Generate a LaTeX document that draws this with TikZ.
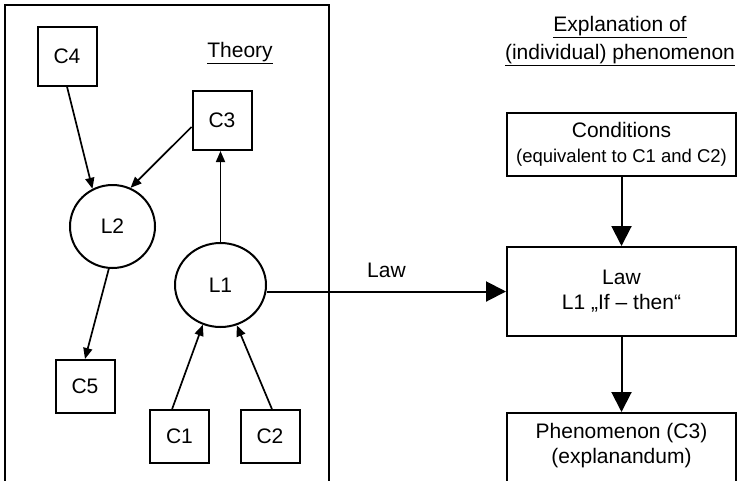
\documentclass[tikz,border=0pt]{standalone}
\usepackage{fontspec}
\setmainfont{Liberation Sans}
\usetikzlibrary{arrows.meta,shapes.geometric}
\newcommand{\subtext}{\fontsize{18.5}{22}\selectfont}
\begin{document}
\begin{tikzpicture}[x=1pt,y=-1pt,
  font=\fontsize{21}{25}\selectfont,
  cbox/.style={draw, line width=2pt, inner sep=0pt, minimum width=59pt, minimum height=53pt},
  law/.style={draw, ellipse, line width=2pt, inner sep=0pt},
  rbox/.style={draw, line width=2pt, inner sep=0pt, minimum width=229pt, align=center},
  thin arrow/.style={line width=1.7pt, -{Triangle[length=11pt,width=9pt]}},
  thick arrow/.style={line width=2pt, -{Triangle[length=20pt,width=20pt]}}
]
\clip (0,0) rectangle (738,480);
\fill[white] (0,0) rectangle (738,480);

% theory frame, open towards the bottom
\draw[line width=2.2pt] (5,500) -- (5,5) -- (329,5) -- (329,500);
\node (theory) at (240,53) {\underline{Theory}};

% concepts and laws of the theory
\node[cbox, minimum height=59pt] (C4) at (67,56) {C4};
\node[cbox, minimum height=59pt] (C3) at (222,120.5) {C3};
\node[cbox] (C5) at (85,386.5) {C5};
\node[cbox] (C1) at (179.5,436.5) {C1};
\node[cbox] (C2) at (270,436.5) {C2};
\node[law, minimum width=85pt, minimum height=83pt] (L2) at (112.5,226.5) {L2};
\node[law, minimum width=91pt, minimum height=84pt] (L1) at (220.5,285) {L1};

\draw[thin arrow] (C4.south) -- (L2.118);
\draw[thin arrow] (C3.192) -- (L2.65);
\draw[thin arrow] (L1.north) -- (L1.north |- C3.south);
\draw[thin arrow] (L2.265) -- (C5.north);
\draw[thin arrow] (C1.105) -- (L1.246);
\draw[thin arrow] (C2.86) -- (L1.292);

% explanation scheme
\node[align=center, font=\fontsize{21}{28}\selectfont] (expl) at (620,41)
  {\underline{Explanation of}\\\underline{(individual) phenomenon}};
\node[rbox, minimum height=63pt] (cond) at (621.5,144.5)
  {Conditions\\{\subtext (equivalent to C1 and C2)}};
\node[rbox, minimum height=89pt] (lawbox) at (621.5,291.5)
  {Law\\L1 „If – then“};
\node[rbox, minimum height=140pt, anchor=north] (phen) at (621.5,412) {};
\node[align=center] (phentext) at (621.5,446) {Phenomenon (C3)\\(explanandum)};

\draw[thick arrow] (cond.south) -- (lawbox.north);
\draw[thick arrow] (lawbox.south) -- (phen.north);
\draw[thick arrow] (L1.east |- lawbox.west) -- node[above=9pt] {Law} (lawbox.west);
\end{tikzpicture}
\end{document}
